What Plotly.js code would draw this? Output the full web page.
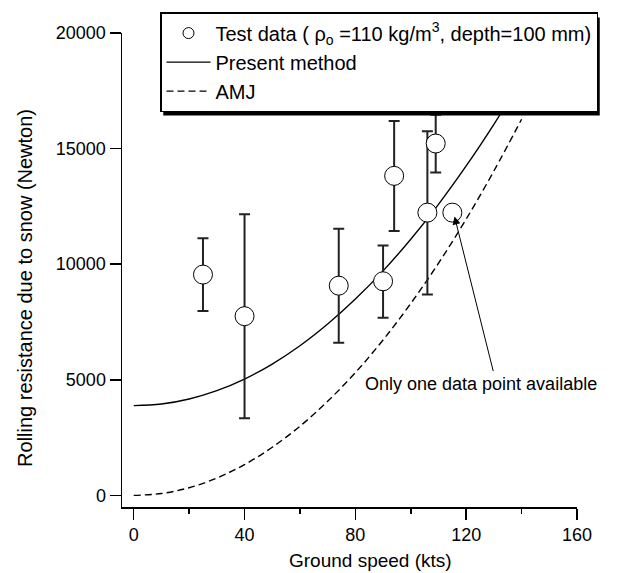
<!DOCTYPE html>
<html>
<head>
<meta charset="utf-8">
<script src="https://cdn.plot.ly/plotly-3.0.1.min.js"></script>
<style>html,body{margin:0;padding:0;background:#fff;}#chart{width:632px;height:573px;}</style>
</head>
<body>
<div id="chart"></div>
<script>
// Test data (ground speed kts, rolling resistance N) with error bar ends
var testX    = [25, 40, 74, 90, 94, 106, 109, 115];
var testY    = [9550, 7750, 9070, 9260, 13820, 12230, 15220, 12230];
var testHigh = [11120, 12160, 11530, 10810, 16190, 15750, 16460, null];
var testLow  = [7970, 3330, 6600, 7680, 11440, 8690, 13970, null];

// Curves
var curveX   = [0, 10, 20, 30, 40, 50, 60, 70, 80, 90, 100, 110, 120, 130, 140];
var presentY = [3880, 3950, 4170, 4530, 5030, 5680, 6470, 7410, 8490, 9710, 11080, 12590, 14250, 16050, 17990];
var amjY     = [0, 80, 330, 750, 1330, 2080, 2990, 4070, 5310, 6720, 8300, 10040, 11950, 14030, 16270];

var xTicks = [0, 40, 80, 120, 160];
var xMinorTicks = [20, 60, 100, 140];
var yTicks = [0, 5000, 10000, 15000, 20000];

var seriesNames = ['Test data ( \u03c1<sub>o</sub> =110 kg/m<sup>3</sup>, depth=100 mm)', 'Present method', 'AMJ'];

var errPlus = testY.map(function(v, i){ return testHigh[i] === null ? null : testHigh[i] - v; });
var errMinus = testY.map(function(v, i){ return testLow[i] === null ? null : v - testLow[i]; });

var FONT = 'Liberation Sans, Arial, Helvetica, sans-serif';

var traces = [
  {x: curveX, y: presentY, mode: 'lines', name: seriesNames[1], legendrank: 2,
   line: {color: '#000', width: 1.4, shape: 'spline', smoothing: 1}, hoverinfo: 'skip'},
  {x: curveX, y: amjY, mode: 'lines', name: seriesNames[2], legendrank: 3,
   line: {color: '#000', width: 1.4, dash: '7px,4px', shape: 'spline', smoothing: 1}, hoverinfo: 'skip'},
  {x: testX, y: testY, mode: 'markers', showlegend: false, name: seriesNames[0],
   marker: {symbol: 'circle', size: 19, color: '#fff', line: {color: '#000', width: 1}},
   error_y: {type: 'data', symmetric: false, array: errPlus, arrayminus: errMinus,
             color: '#222', thickness: 2, width: 5.5}},
  // legend entry for the test data (smaller symbol, as in the original legend)
  {x: [null], y: [null], mode: 'markers', legendrank: 1, name: seriesNames[0],
   marker: {symbol: 'circle', size: 11, color: '#fff', line: {color: '#000', width: 1}},
   hoverinfo: 'skip'}
];

var L = 122, R = 55, T = 31, B = 66;
var W = 632 - L - R, H = 573 - T - B;
function px(v){ return (v - L) / W; }
function py(v){ return (573 - B - v) / H; }

var layout = {
  width: 632, height: 573,
  margin: {l: L, r: R, t: T, b: B, pad: 0},
  paper_bgcolor: '#fff', plot_bgcolor: '#fff',
  font: {family: FONT, size: 18, color: '#000'},
  showlegend: true,
  legend: {x: px(160), y: py(10), xanchor: 'left', yanchor: 'top',
           bgcolor: '#fff', bordercolor: '#000', borderwidth: 1.5,
           font: {family: FONT, size: 20, color: '#000'},
           itemwidth: 44, tracegroupgap: 0},
  xaxis: {range: [-4.23, 160], showgrid: false, zeroline: false,
          showline: true, linecolor: '#000', linewidth: 1.5,
          ticks: 'outside', ticklen: 11, tickwidth: 1.5, tickcolor: '#000',
          tickmode: 'array', tickvals: xTicks, ticktext: xTicks.map(String),
          minor: {tickmode: 'array', tickvals: xMinorTicks, ticks: 'outside', ticklen: 5, tickwidth: 1.5, tickcolor: '#000'},
          tickfont: {family: FONT, size: 18, color: '#000'}},
  yaxis: {range: [-504, 20000], showgrid: false, zeroline: false,
          showline: true, linecolor: '#000', linewidth: 1.5,
          ticks: 'outside', ticklen: 11, tickwidth: 1.5, tickcolor: '#000',
          tickmode: 'array', tickvals: yTicks, ticktext: yTicks.map(String),
          tickfont: {family: FONT, size: 18, color: '#000'}},
  shapes: [],
  annotations: [
    {x: 115.8, y: 12060, xref: 'x', yref: 'y', ax: 129.9, ay: 5310, axref: 'x', ayref: 'y',
     text: '', showarrow: true, arrowhead: 2, arrowsize: 1.6, arrowwidth: 1, arrowcolor: '#000'},
    {x: 82.6, y: 4820, xref: 'x', yref: 'y', xanchor: 'left', yanchor: 'middle',
     text: 'Only one data point available', showarrow: false,
     font: {family: FONT, size: 18, color: '#000'}},
    {x: px(370), y: py(561), xref: 'paper', yref: 'paper', xanchor: 'center', yanchor: 'middle',
     text: 'Ground speed (kts)', showarrow: false,
     font: {family: FONT, size: 19, color: '#000'}},
    {x: px(25), y: py(287), xref: 'paper', yref: 'paper', xanchor: 'center', yanchor: 'middle',
     textangle: -90, text: 'Rolling resistance due to snow (Newton)', showarrow: false,
     font: {family: FONT, size: 20, color: '#000'}}
  ]
};

var gd = document.getElementById('chart');
Plotly.newPlot(gd, traces, layout, {displayModeBar: false, staticPlot: true}).then(function(){
  var bg = gd.querySelector('.legend .bg');
  if (!bg) return;
  var r = bg.getBoundingClientRect(), c = gd.getBoundingClientRect();
  var off = 2.5;
  var left = r.left - c.left + off, right = r.right - c.left + off;
  var top = r.top - c.top + off, bottom = r.bottom - c.top + off;
  return Plotly.relayout(gd, {shapes: [
    {type: 'rect', xref: 'paper', yref: 'paper', layer: 'above',
     x0: px(left), x1: px(right), y0: py(bottom), y1: py(top),
     fillcolor: '#000', line: {width: 0}}
  ]});
});
</script>
</body>
</html>
